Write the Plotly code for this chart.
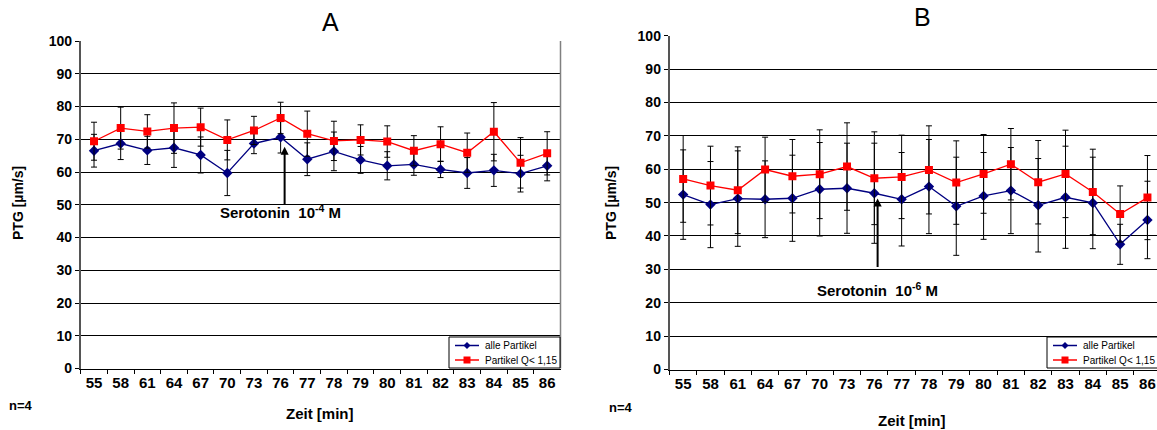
import plotly.graph_objects as go

categories = ["55", "58", "61", "64", "67", "70", "73", "76", "77", "78", "79", "80", "81", "82", "83", "84", "85", "86"]

# Panel A (Serotonin 10^-4 M)
a_alle = [66.5, 68.7, 66.6, 67.4, 65.2, 59.7, 68.7, 70.6, 63.9, 66.3, 63.7, 61.9, 62.3, 60.8, 59.7, 60.5, 59.5, 61.9]
a_alle_sd = [5.0, 4.9, 4.3, 6.0, 5.5, 6.9, 3.1, 4.8, 5.0, 5.9, 4.1, 4.3, 3.3, 2.5, 4.7, 4.9, 5.6, 4.6]
a_q = [69.4, 73.4, 72.4, 73.4, 73.7, 69.8, 72.7, 76.5, 71.7, 69.5, 69.8, 69.3, 66.5, 68.5, 65.9, 72.3, 62.8, 65.7]
a_q_sd = [5.8, 6.4, 5.1, 7.7, 5.8, 6.1, 4.3, 4.8, 6.9, 6.0, 4.6, 4.8, 4.6, 5.3, 6.0, 8.9, 7.7, 6.6]

# Panel B (Serotonin 10^-6 M)
b_alle = [52.4, 49.4, 51.2, 51.0, 51.3, 54.0, 54.3, 52.8, 51.0, 54.8, 48.9, 52.0, 53.6, 49.2, 51.6, 49.9, 37.5, 44.8]
b_alle_sd = [13.4, 12.9, 14.3, 11.5, 12.9, 14.0, 13.5, 15.0, 14.0, 14.1, 14.7, 13.0, 12.9, 14.0, 15.3, 13.7, 6.0, 11.6]
b_q = [57.1, 55.1, 53.7, 59.9, 57.9, 58.5, 60.8, 57.3, 57.7, 59.8, 56.0, 58.6, 61.5, 56.1, 58.6, 53.2, 46.6, 51.5]
b_q_sd = [13.0, 11.8, 13.0, 9.7, 11.0, 13.3, 13.1, 13.9, 12.5, 13.2, 12.5, 11.8, 10.7, 12.5, 13.1, 12.8, 8.4, 12.6]

y_ticks = [0, 10, 20, 30, 40, 50, 60, 70, 80, 90, 100]
series_names = ["alle Partikel", "Partikel Q< 1,15"]

FONT = "Arial, Liberation Sans, sans-serif"
BLUE = "#000080"
RED = "#FF0000"

W, H = 1157, 430
def px(x):
    return x / W
def py(y):
    return 1 - y / H

fig = go.Figure()

def add_series(xa, ya, vals, sds, name, color, symbol, size):
    fig.add_trace(go.Scatter(
        x=categories, y=vals, xaxis=xa, yaxis=ya, name=name,
        mode="lines+markers",
        line=dict(color=color, width=1.3),
        marker=dict(color=color, symbol=symbol, size=size),
        error_y=dict(type="data", array=sds, visible=True, color="black", thickness=1, width=3),
        showlegend=False,
    ))

add_series("x", "y", a_alle, a_alle_sd, series_names[0], BLUE, "diamond", 8)
add_series("x", "y", a_q, a_q_sd, series_names[1], RED, "square", 8)
add_series("x2", "y2", b_alle, b_alle_sd, series_names[0], BLUE, "diamond", 8)
add_series("x2", "y2", b_q, b_q_sd, series_names[1], RED, "square", 8)

xcommon = dict(type="category", categoryorder="array", categoryarray=categories,
               showgrid=False, showline=True, linecolor="black", linewidth=1,
               ticks="outside", ticklen=4, tickcolor="black", tickson="boundaries",
               tickfont=dict(family=FONT, size=15, color="black", weight="bold"),
               zeroline=False, fixedrange=True, automargin=False)
ycommon = dict(range=[0, 100], tickvals=y_ticks, showgrid=True, gridcolor="black", gridwidth=1,
               showline=True, linecolor="#555555", linewidth=1.5,
               ticks="outside", ticklen=4, tickcolor="black",
               tickfont=dict(family=FONT, size=14, color="black", weight="bold"),
               zeroline=False, fixedrange=True, automargin=False)

fig.update_layout(
    width=W, height=H,
    margin=dict(l=0, r=0, t=0, b=0, autoexpand=False),
    paper_bgcolor="white", plot_bgcolor="white",
    font=dict(family=FONT, color="black"),
    showlegend=False,
    xaxis=dict(xcommon, domain=[px(80.7), px(560.5)], anchor="y", range=[-0.5, 17.5]),
    yaxis=dict(ycommon, domain=[py(368.5), py(41)], anchor="x"),
    xaxis2=dict(xcommon, domain=[px(669.5), 1.0], anchor="y2", range=[-0.5, 17.35]),
    yaxis2=dict(ycommon, domain=[py(369.5), py(35.7)], anchor="x2"),
)

shapes = []
# right border of panel A
shapes.append(dict(type="line", xref="paper", yref="paper", x0=px(560.5), x1=px(560.5),
                   y0=py(368.5), y1=py(41), line=dict(color="#808080", width=1.5)))

ann = []

def label(text, x, y, size, angle=0):
    ann.append(dict(text=text, x=px(x), y=py(y), xref="paper", yref="paper",
                    xanchor="center", yanchor="middle", showarrow=False, textangle=angle,
                    font=dict(family=FONT, size=size, color="black")))

def manual_legend(x0, x1, y0, y1):
    shapes.append(dict(type="rect", xref="paper", yref="paper", x0=px(x0), x1=px(x1),
                       y0=py(y1), y1=py(y0), line=dict(color="black", width=1), fillcolor="white"))
    rows = [(y0 + 8.5, BLUE, "diamond", series_names[0]), (y0 + 23, RED, "square", series_names[1])]
    for yy, col, sym, name in rows:
        lx0, lx1 = x0 + 6, x0 + 30
        shapes.append(dict(type="line", xref="paper", yref="paper", x0=px(lx0), x1=px(lx1),
                           y0=py(yy), y1=py(yy), line=dict(color=col, width=1.5)))
        cx = (lx0 + lx1) / 2
        s = 3.5
        if sym == "diamond":
            path = "M {} {} L {} {} L {} {} L {} {} Z".format(
                px(cx), py(yy - s), px(cx + s), py(yy), px(cx), py(yy + s), px(cx - s), py(yy))
        else:
            path = "M {} {} L {} {} L {} {} L {} {} Z".format(
                px(cx - s), py(yy - s), px(cx + s), py(yy - s), px(cx + s), py(yy + s), px(cx - s), py(yy + s))
        shapes.append(dict(type="path", xref="paper", yref="paper", path=path,
                           fillcolor=col, line=dict(color=col, width=0)))
        ann.append(dict(text=name, x=px(x0 + 34), y=py(yy), xref="paper", yref="paper",
                        xanchor="left", yanchor="middle", showarrow=False,
                        font=dict(family=FONT, size=10, color="black")))

manual_legend(449, 560, 337, 368)
manual_legend(1047, 1160, 337, 368)

# Titles
label("A", 330, 22, 25)
label("B", 922, 17, 25)
# Y axis titles
label("<b>PTG [µm/s]</b>", 18, 203, 14, -90)
label("<b>PTG [µm/s]</b>", 611, 203, 14, -90)
# X axis titles
label("<b>Zeit [min]</b>", 320, 413, 15)
label("<b>Zeit [min]</b>", 912, 420, 15)
# n=4
label("<b>n=4</b>", 21, 405, 13)
label("<b>n=4</b>", 621, 407, 13)

# Serotonin annotations
ann.append(dict(text="<b>Serotonin  10<sup>-4</sup> M</b>", x=7.0, y=47.9, xref="x", yref="y",
                xanchor="center", yanchor="middle",
                showarrow=False, font=dict(family=FONT, size=15, color="black")))
ann.append(dict(text="<b>Serotonin  10<sup>-6</sup> M</b>", x=7.12, y=24.0, xref="x2", yref="y2",
                xanchor="center", yanchor="middle",
                showarrow=False, font=dict(family=FONT, size=15, color="black")))

# Arrows (drawn as shapes)
def arrow(xref, yref, x, y_tail, y_tip, ppu):
    shapes.append(dict(type="line", xref=xref, yref=yref, x0=x, x1=x, y0=y_tail, y1=y_tip - 6 / ppu,
                       line=dict(color="black", width=2)))
    hw = 4 / 26.6
    path = "M {} {} L {} {} L {} {} Z".format(x - hw, y_tip - 8 / ppu, x + hw, y_tip - 8 / ppu, x, y_tip)
    shapes.append(dict(type="path", xref=xref, yref=yref, path=path,
                       fillcolor="black", line=dict(color="black", width=0)))

arrow("x", "y", 7.15, 50.0, 67.7, 3.28)
arrow("x2", "y2", 7.12, 30.7, 51.2, 3.34)

fig.update_layout(annotations=ann, shapes=shapes)

fig.write_html("out.html", config={"displayModeBar": False},
               post_script="document.body.style.margin='0px';document.body.style.overflow='hidden';")
